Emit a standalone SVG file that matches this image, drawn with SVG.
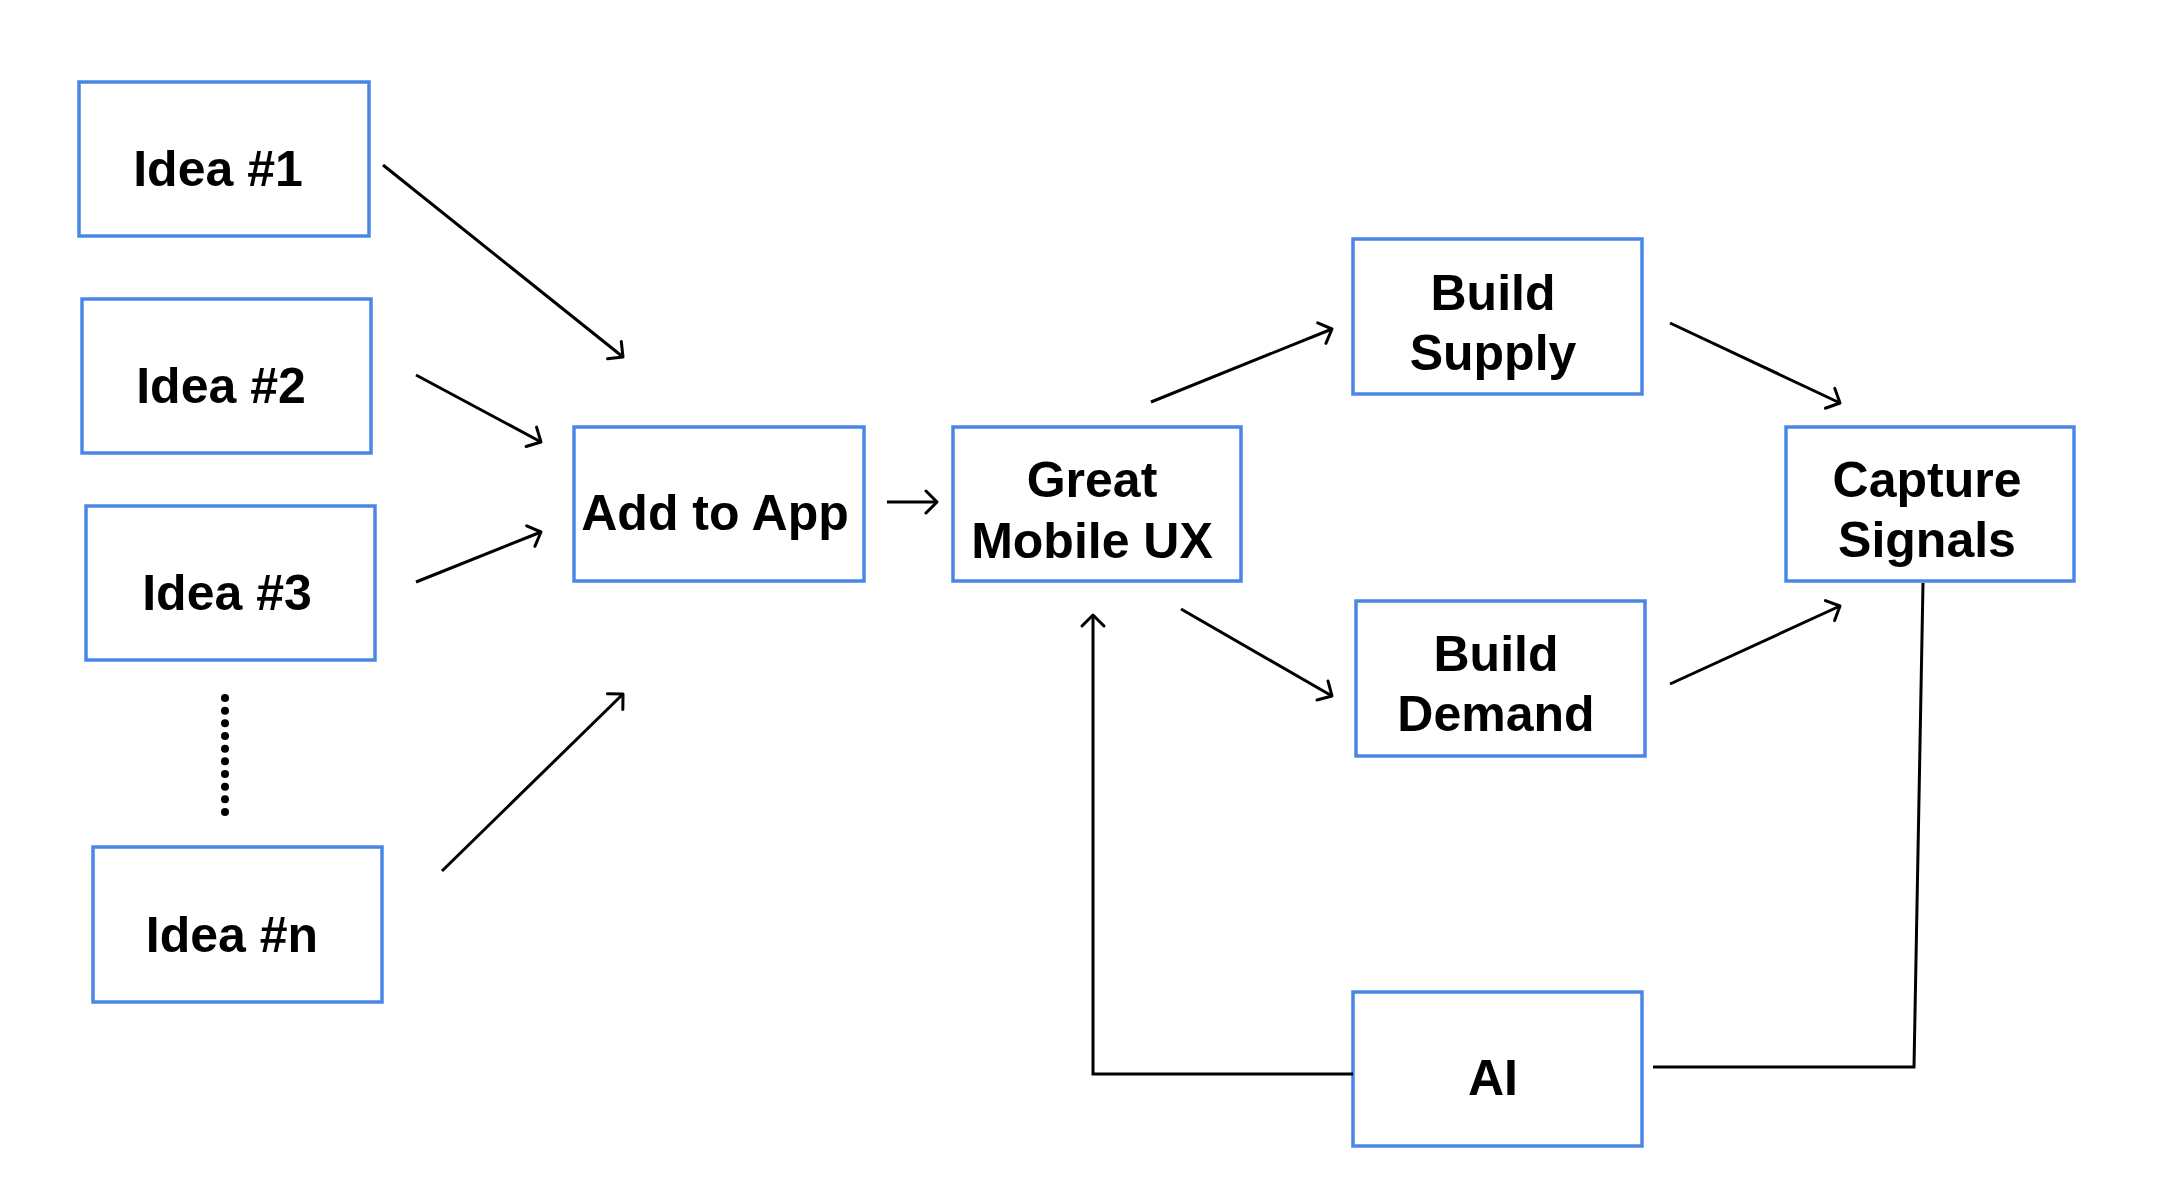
<svg xmlns="http://www.w3.org/2000/svg" width="2180" height="1196" viewBox="0 0 2180 1196">
<defs>
<style>
.box{fill:#ffffff;stroke:#4a86e8;stroke-width:3.5}
.lbl{font-family:"Liberation Sans",Arial,sans-serif;font-weight:bold;font-size:50px;fill:#000000;text-anchor:middle}
.con{fill:none;stroke:#000000;stroke-width:3}
</style>
<marker id="arr" markerUnits="userSpaceOnUse" markerWidth="30" markerHeight="30" refX="0" refY="0" viewBox="-15 -15 30 30" orient="auto" overflow="visible">
<path d="M-11,-11 L0,0 L-11,11" fill="none" stroke="#000000" stroke-width="3" stroke-linecap="round" stroke-linejoin="round"/>
</marker>
</defs>
<rect width="2180" height="1196" fill="#ffffff"/>
<g id="idea1"><rect class="box" x="79" y="82" width="290" height="154"/><text class="lbl" x="218" y="186">Idea #1</text></g>
<g id="idea2"><rect class="box" x="82" y="299" width="289" height="154"/><text class="lbl" x="221" y="403">Idea #2</text></g>
<g id="idea3"><rect class="box" x="86" y="506" width="289" height="154"/><text class="lbl" x="227" y="610">Idea #3</text></g>
<g id="ellipsis">
<circle cx="225" cy="698" r="4"/><circle cx="225" cy="710.7" r="4"/><circle cx="225" cy="723.3" r="4"/><circle cx="225" cy="736" r="4"/><circle cx="225" cy="748.7" r="4"/><circle cx="225" cy="761.3" r="4"/><circle cx="225" cy="774" r="4"/><circle cx="225" cy="786.7" r="4"/><circle cx="225" cy="799.3" r="4"/><circle cx="225" cy="812" r="4"/>
</g>
<g id="idean"><rect class="box" x="93" y="847" width="289" height="155"/><text class="lbl" x="232" y="952">Idea #n</text></g>
<g id="addtoapp"><rect class="box" x="574" y="427" width="290" height="154"/><text class="lbl" x="715" y="530">Add to App</text></g>
<g id="greatux"><rect class="box" x="953" y="427" width="288" height="154"/><text class="lbl" x="1092" y="497">Great</text><text class="lbl" x="1092" y="558">Mobile UX</text></g>
<g id="buildsupply"><rect class="box" x="1353" y="239" width="289" height="155"/><text class="lbl" x="1493" y="310">Build</text><text class="lbl" x="1493" y="370">Supply</text></g>
<g id="capture"><rect class="box" x="1786" y="427" width="288" height="154"/><text class="lbl" x="1927" y="497">Capture</text><text class="lbl" x="1927" y="557">Signals</text></g>
<g id="builddemand"><rect class="box" x="1356" y="601" width="289" height="155"/><text class="lbl" x="1496" y="671">Build</text><text class="lbl" x="1496" y="731">Demand</text></g>
<g id="ai"><rect class="box" x="1353" y="992" width="289" height="154"/><text class="lbl" x="1493" y="1095">AI</text></g>
<g id="connectors">
<line class="con" x1="383" y1="165" x2="623" y2="357" marker-end="url(#arr)"/>
<line class="con" x1="416" y1="375" x2="541" y2="442" marker-end="url(#arr)"/>
<line class="con" x1="416" y1="582" x2="541" y2="532" marker-end="url(#arr)"/>
<line class="con" x1="442" y1="871" x2="623" y2="694" marker-end="url(#arr)"/>
<line class="con" x1="887" y1="502" x2="937" y2="502" marker-end="url(#arr)"/>
<line class="con" x1="1151" y1="402" x2="1332" y2="329" marker-end="url(#arr)"/>
<line class="con" x1="1181" y1="609" x2="1332" y2="696" marker-end="url(#arr)"/>
<line class="con" x1="1670" y1="323" x2="1840" y2="403" marker-end="url(#arr)"/>
<line class="con" x1="1670" y1="684" x2="1840" y2="606" marker-end="url(#arr)"/>
<polyline class="con" points="1353,1074 1093,1074 1093,615" marker-end="url(#arr)"/>
<polyline class="con" points="1653,1067 1914,1067 1923,583"/>
</g>
</svg>
